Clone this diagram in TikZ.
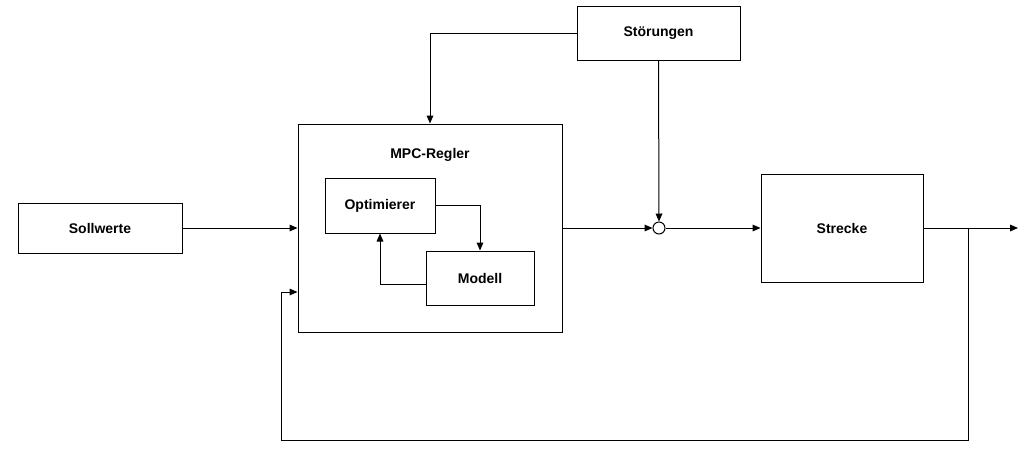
\documentclass[tikz,border=0pt]{standalone}
\usepackage{fontspec}
\setmainfont{Liberation Sans}
\usetikzlibrary{arrows.meta,calc}
\begin{document}
\begin{tikzpicture}[x=0.75pt,y=-0.75pt,
  blk/.style={draw,line width=0.75pt,inner sep=0pt,font=\bfseries\fontsize{10.5}{12}\selectfont},
  conn/.style={line width=0.75pt,-{Triangle[length=6pt,width=5pt]}},
  plain/.style={line width=0.75pt}]
\useasboundingbox (0,0) rectangle (1025,451);
\node[blk,minimum width=123pt,minimum height=37.5pt] (soll) at (100,228) {Sollwerte};
\node[blk,minimum width=198pt,minimum height=156pt] (mpc) at (430,228) {};
\node[font=\bfseries\fontsize{10.5}{12}\selectfont] (mpct) at (430,155) {MPC-Regler};
\node[blk,minimum width=82.5pt,minimum height=41.25pt] (opt) at (380,205.5) {Optimierer};
\node[blk,minimum width=81pt,minimum height=40.5pt] (mod) at (480,278) {Modell};
\node[blk,minimum width=122.25pt,minimum height=40.5pt] (stoer) at (658.5,33) {Störungen};
\node[blk,minimum width=121.5pt,minimum height=81pt] (str) at (842,228) {Strecke};
\node[draw,circle,line width=0.75pt,minimum size=9pt,inner sep=0pt] (sum) at (659,228) {};
\coordinate (out) at (1018,228);
\coordinate (br) at (968,228);
\coordinate (c1) at (968,440);
\coordinate (c2) at (281,440);
\coordinate (c3) at (281,292);

\draw[conn] (soll.east) -- (soll.east -| mpc.west);
\draw[conn] (opt.east) -| (mod.north);
\draw[conn] ([yshift=-4.5pt]mod.west) -| (opt.south);
\draw[conn] (stoer.west) -| (mpc.north);
\draw[conn] (stoer.south) -- (sum.north);
\draw[conn] (mpc.east) -- (sum.west);
\draw[conn] (sum.east) -- (str.west);
\draw[conn] (str.east) -- (out);
\draw[conn] (br) -- (c1) -- (c2) -- (c3) -- (c3 -| mpc.west);
\end{tikzpicture}
\end{document}
